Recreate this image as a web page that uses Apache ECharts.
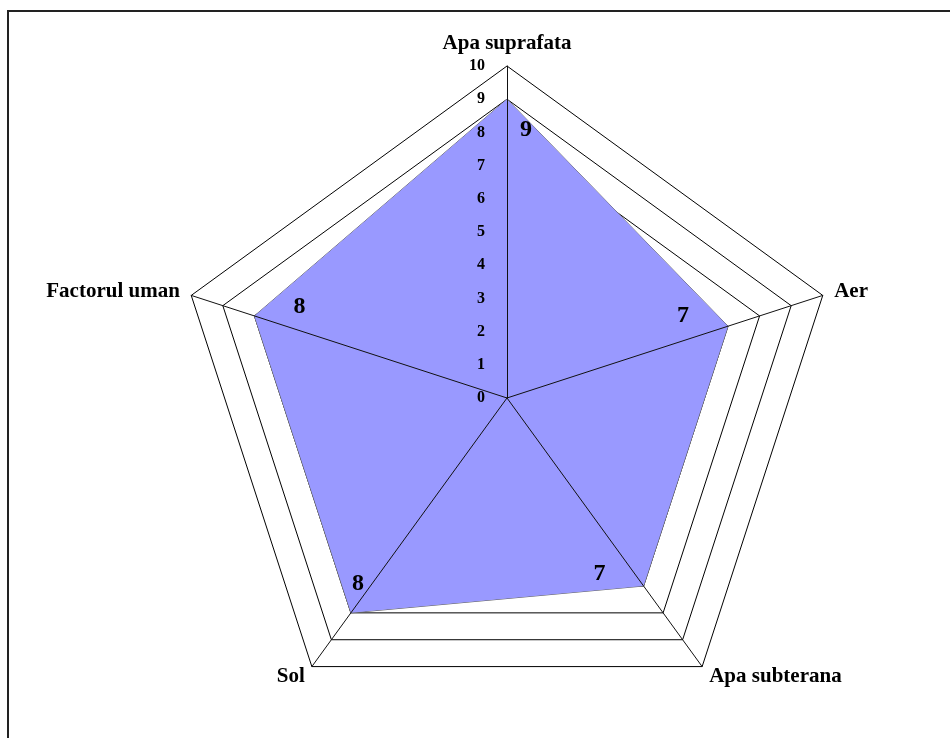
<!DOCTYPE html>
<html>
<head>
<meta charset="utf-8">
<script src="https://cdn.jsdelivr.net/npm/echarts@6/dist/echarts.min.js"></script>
<style>
  html, body { margin: 0; padding: 0; background: #fff; }
  #chart { width: 950px; height: 738px; }
</style>
</head>
<body>
<div id="chart"></div>
<script>
// indicators in echarts order (counter-clockwise from top)
var categories = ['Apa suprafata', 'Factorul uman', 'Sol', 'Apa subterana', 'Aer'];
var values = [9, 8, 8, 7, 7];
var axisMax = 10;
// where each value label sits relative to its point
var labelOffsets = [[19, 31], [45, -9], [7, -29], [-44, -12], [-45, -10]];

var serif = 'Liberation Serif';
var center = [507, 398];
var radius = 332;

var chart = echarts.init(document.getElementById('chart'));

var indicatorBase = categories.map(function (c) {
    return { name: c, min: 0, max: axisMax };
});
// top radar: spokes + tick labels drawn over the fill
var indicatorTop = categories.map(function (c, i) {
    var o = { name: c, min: 0, max: axisMax };
    if (i === 0) o.axisLabel = { show: true };
    return o;
});

var labelSeries = categories.map(function (c, i) {
    return {
        type: 'radar',
        radarIndex: 0,
        silent: true,
        z: 6,
        symbol: 'circle',
        symbolSize: 0,
        itemStyle: { color: 'rgba(0,0,0,0)' },
        lineStyle: { opacity: 0 },
        label: {
            show: true,
            position: 'inside',
            offset: labelOffsets[i],
            color: '#000',
            fontFamily: serif,
            fontWeight: 'bold',
            fontSize: 24,
            formatter: function (p) {
                return p.dimensionIndex === i ? String(values[i]) : '';
            }
        },
        data: [{ value: values }]
    };
});

var option = {
    backgroundColor: '#fff',
    animation: false,
    graphic: [{
        type: 'rect',
        shape: { x: 8, y: 11, width: 1200, height: 1200 },
        style: { fill: 'none', stroke: '#222', lineWidth: 2 },
        silent: true
    }],
    radar: [{
        center: center,
        radius: radius,
        startAngle: 90,
        shape: 'polygon',
        splitNumber: 10,
        indicator: indicatorBase,
        axisName: {
            color: '#000',
            fontFamily: serif,
            fontWeight: 'bold',
            fontSize: 21
        },
        nameGap: 12,
        axisLine: { show: false },
        axisTick: { show: false },
        axisLabel: { show: false },
        splitLine: { lineStyle: { color: '#000', width: 1 } },
        splitArea: { show: false }
    }, {
        center: center,
        radius: radius,
        startAngle: 90,
        shape: 'polygon',
        splitNumber: 10,
        z: 5,
        indicator: indicatorTop,
        axisName: { show: false },
        axisLine: { lineStyle: { color: '#111', width: 1 } },
        axisTick: { show: false },
        axisLabel: {
            show: false,
            color: '#000',
            fontFamily: serif,
            fontWeight: 'bold',
            fontSize: 16,
            margin: 22
        },
        splitLine: { show: false },
        splitArea: { show: false }
    }],
    series: [{
        type: 'radar',
        radarIndex: 0,
        silent: true,
        symbol: 'none',
        lineStyle: { color: '#666', width: 1 },
        areaStyle: { color: '#9999FF', opacity: 1 },
        data: [{ value: values }]
    }].concat(labelSeries)
};

chart.setOption(option);
</script>
</body>
</html>
